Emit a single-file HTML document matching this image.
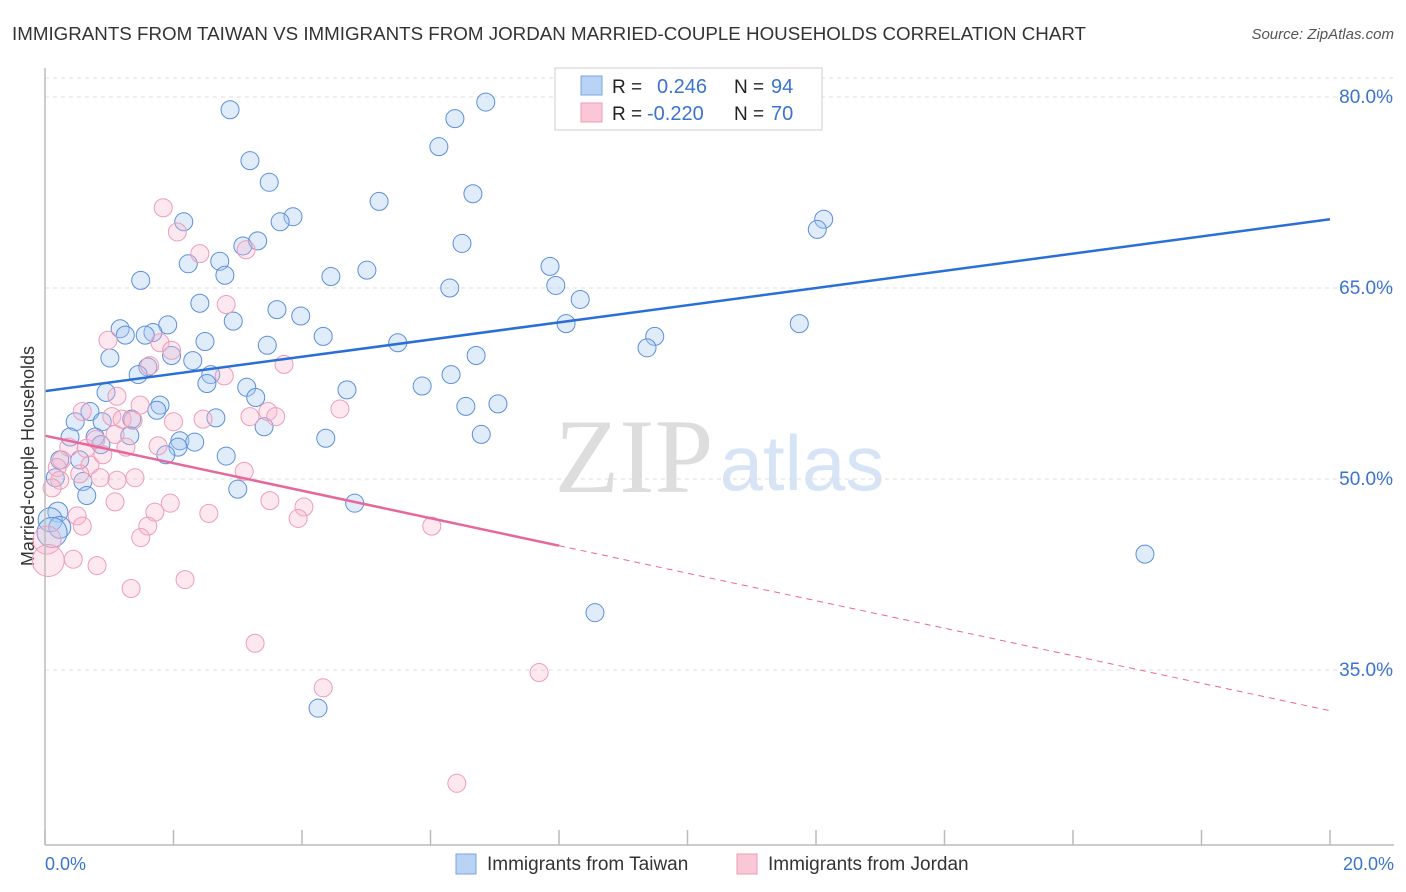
<!DOCTYPE html>
<html><head><meta charset="utf-8"><style>
body{margin:0;background:#fff;font-family:"Liberation Sans",sans-serif}
#wrap{position:relative;width:1406px;height:892px;overflow:hidden}
</style></head><body>
<div id="wrap">
<svg id="svg" width="1406" height="892" xmlns="http://www.w3.org/2000/svg">
<text x="12" y="40" font-size="18" fill="#333" textLength="1074" lengthAdjust="spacingAndGlyphs">IMMIGRANTS FROM TAIWAN VS IMMIGRANTS FROM JORDAN MARRIED-COUPLE HOUSEHOLDS CORRELATION CHART</text>
<text x="1394" y="39" font-size="15" fill="#555" font-style="italic" text-anchor="end">Source: ZipAtlas.com</text>
<text x="0" y="0" font-size="18" fill="#333" text-anchor="middle" transform="translate(34,456) rotate(-90)">Married-couple Households</text>
<text x="634" y="492" font-size="106" fill="#ddd" font-family="Liberation Serif,serif" text-anchor="middle">ZIP</text>
<text x="802" y="490" font-size="78" fill="#d6e4f5" text-anchor="middle">atlas</text>
<g id="grid"></g><g id="pts"></g><g id="lines"></g>
<line x1="45" y1="68" x2="45" y2="845" stroke="#bbb" stroke-width="1.5"/>
<line x1="45" y1="845" x2="1394" y2="845" stroke="#bbb" stroke-width="1.5"/>
<text x="45" y="870" font-size="18" fill="#3a73d0">0.0%</text>
<text x="1394" y="870" font-size="18" fill="#3a73d0" text-anchor="end">20.0%</text>
<g>
<rect x="555" y="68" width="267" height="62" fill="#fff" stroke="#ccc"/>
<rect x="581" y="76" width="21" height="19" fill="#b9d3f5" stroke="#7aa5e0"/>
<rect x="581" y="103" width="21" height="19" fill="#fac7d7" stroke="#f09ab5"/>
<text x="612" y="93" font-size="19" fill="#222">R =</text><text x="657" y="93" font-size="20" fill="#3a73d0">0.246</text>
<text x="734" y="93" font-size="19" fill="#222">N =</text><text x="771" y="93" font-size="20" fill="#3a73d0">94</text>
<text x="612" y="120" font-size="19" fill="#222">R =</text><text x="647" y="120" font-size="20" fill="#3a73d0">-0.220</text>
<text x="734" y="120" font-size="19" fill="#222">N =</text><text x="771" y="120" font-size="20" fill="#3a73d0">70</text>
</g>
<g>
<rect x="456" y="854" width="20" height="20" fill="#b9d3f5" stroke="#7aa5e0"/>
<text x="487" y="870" font-size="19" fill="#333">Immigrants from Taiwan</text>
<rect x="737" y="854" width="20" height="20" fill="#fac7d7" stroke="#f09ab5"/>
<text x="768" y="870" font-size="19" fill="#333">Immigrants from Jordan</text>
</g>
</svg></div>
<script>
const yTicks=[80,65,50,35];
const xTicks=[0,2,4,6,8,10,12,14,16,18,20];
const taiwanX=[2.88,3.19,3.49,6.86,6.38,6.13,6.66,5.2,3.86,3.66,2.16,3.08,3.31,6.49,12.12,12.02,2.23,2.72,2.8,1.49,4.45,5.01,7.86,7.95,6.3,8.33,2.41,2.93,3.61,3.98,1.91,1.68,1.17,1.25,1.56,2.49,4.33,8.11,11.74,9.49,9.37,5.49,3.46,1.97,1.01,2.3,6.71,1.6,1.45,2.58,2.52,3.14,4.7,5.87,6.32,0.95,3.28,1.79,1.74,0.7,0.47,0.89,2.66,3.41,6.55,7.05,1.35,1.32,0.78,0.39,0.87,2.1,2.33,2.07,1.88,2.82,4.37,6.79,0.54,0.23,0.16,0.59,0.65,3.0,4.82,0.2,0.08,0.23,0.11,17.12,8.56,4.25];
const taiwanY=[79.0,75.0,73.3,79.6,78.3,76.1,72.4,71.8,70.6,70.2,70.2,68.3,68.7,68.5,70.4,69.6,66.9,67.1,66.0,65.6,65.9,66.4,66.7,65.2,65.0,64.1,63.8,62.4,63.3,62.8,62.1,61.5,61.8,61.3,61.3,60.8,61.2,62.2,62.2,61.2,60.3,60.7,60.5,59.7,59.5,59.3,59.7,58.8,58.2,58.2,57.5,57.2,57.0,57.3,58.2,56.8,56.4,55.8,55.4,55.3,54.5,54.5,54.8,54.1,55.7,55.9,54.7,53.4,53.3,53.3,52.7,53.0,52.9,52.5,51.9,51.8,53.2,53.5,51.5,51.5,50.1,49.8,48.7,49.2,48.1,47.4,46.8,46.2,45.8,44.1,39.5,32.0];
const taiwanR=[9,9,9,9,9,9,9,9,9,9,9,9,9,9,9,9,9,9,9,9,9,9,9,9,9,9,9,9,9,9,9,9,9,9,9,9,9,9,9,9,9,9,9,9,9,9,9,9,9,9,9,9,9,9,9,9,9,9,9,9,9,9,9,9,9,9,9,9,9,9,9,9,9,9,9,9,9,9,9,9,9,9,9,9,9,10,12,11,15,9,9,9];
const jordanX=[1.84,2.06,2.41,3.13,2.82,0.98,1.79,1.97,3.72,2.79,1.63,1.12,1.48,0.58,1.04,1.2,1.37,3.19,3.47,3.59,4.59,2.0,2.46,1.09,0.37,0.64,1.26,1.76,0.79,0.26,0.7,0.9,0.19,0.54,0.23,0.86,1.12,1.4,0.11,3.1,1.09,1.95,3.5,4.03,3.94,1.71,2.55,0.5,0.58,1.6,6.02,1.49,0.03,0.05,0.44,0.81,2.18,1.34,3.27,4.33,7.69,6.41];
const jordanY=[71.3,69.4,67.7,68.0,63.7,60.9,60.7,60.1,59.0,58.1,58.9,56.5,55.8,55.3,54.9,54.7,54.6,54.9,55.3,54.9,55.5,54.5,54.7,53.5,52.5,52.4,52.5,52.6,53.1,51.5,51.1,51.9,50.9,50.4,49.9,50.1,49.9,50.1,49.3,50.6,48.2,48.1,48.3,47.8,46.9,47.4,47.3,47.1,46.3,46.3,46.3,45.4,45.2,43.6,43.7,43.2,42.1,41.4,37.1,33.6,34.8,26.1];
const jordanR=[9,9,9,9,9,9,9,9,9,9,9,9,9,9,9,9,9,9,9,9,9,9,9,9,9,9,9,9,9,9,9,9,9,9,9,9,9,9,9,9,9,9,9,9,9,9,9,9,9,9,9,9,14,16,9,9,9,9,9,9,9,9];
const taiwanTrend=[56.9,70.4];
const jordanTrend=[53.4,31.8];
const jordanSolidEnd=8;
const X=v=>45+v*64.25, Y=v=>97+(80-v)*12.733;
const NS="http://www.w3.org/2000/svg";
function mk(tag,attrs,parent){const e=document.createElementNS(NS,tag);for(const k in attrs)e.setAttribute(k,attrs[k]);parent.appendChild(e);return e;}
const grid=document.getElementById('grid'),pts=document.getElementById('pts'),lines=document.getElementById('lines');
mk('line',{x1:45,y1:78,x2:1394,y2:78,stroke:'#ddd','stroke-dasharray':'4,4'},grid);
yTicks.forEach(t=>{
 const l=mk('line',{x1:45,y1:Y(t),x2:1394,y2:Y(t),stroke:'#ddd','stroke-dasharray':'4,4'},grid);
 
 
 const tx=mk('text',{x:1393,y:Y(t)+6,'font-size':19,fill:'#3a73d0','text-anchor':'end'},grid);
 tx.textContent=t.toFixed(1)+'%';
 
 
});
xTicks.forEach(t=>{
 const l=mk('line',{x1:X(t),y1:830,x2:X(t),y2:845,stroke:'#bbb','stroke-width':1.5},grid);
 
 
});
taiwanX.forEach((v,i)=>{
 const c=mk('circle',{cx:X(v),cy:Y(taiwanY[i]),r:taiwanR[i],fill:'rgba(170,200,240,0.35)',stroke:'#5a8fdc','stroke-width':1},pts);
 
 
});
jordanX.forEach((v,i)=>{
 const c=mk('circle',{cx:X(v),cy:Y(jordanY[i]),r:jordanR[i],fill:'rgba(248,185,205,0.32)',stroke:'#ee9cb8','stroke-width':1},pts);
 
 
});
const tl=mk('line',{x1:X(0),y1:Y(taiwanTrend[0]),x2:X(20),y2:Y(taiwanTrend[1]),stroke:'#2a6fd6','stroke-width':2.5},lines);


const jAt=x=>jordanTrend[0]+(jordanTrend[1]-jordanTrend[0])*x/20;
const jl=mk('line',{x1:X(0),y1:Y(jAt(0)),x2:X(jordanSolidEnd),y2:Y(jAt(jordanSolidEnd)),stroke:'#e8679a','stroke-width':2.5},lines);


const jd=mk('line',{x1:X(jordanSolidEnd),y1:Y(jAt(jordanSolidEnd)),x2:X(20),y2:Y(jAt(20)),stroke:'#e8679a','stroke-width':1,'stroke-dasharray':'6,5'},lines);


</script>
</body></html>
